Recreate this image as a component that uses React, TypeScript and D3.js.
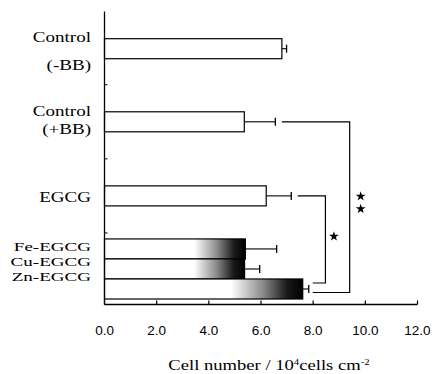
import React from 'react';
import * as d3 from 'd3';

// data
const categories = ['Control (-BB)', 'Control (+BB)', 'EGCG', 'Fe-EGCG', 'Cu-EGCG', 'Zn-EGCG'];
const labelLines = [['Control', '(-BB)'], ['Control', '(+BB)'], ['EGCG'], ['Fe-EGCG'], ['Cu-EGCG'], ['Zn-EGCG']];
const means = [6.8, 5.36, 6.2, 5.4, 5.37, 7.6];
const errors = [0.18, 1.19, 0.96, 1.2, 0.58, 0.23];
const shaded = [false, false, false, true, true, true];
const xTicks = [0, 2, 4, 6, 8, 10, 12];
const comparisons = [
  { from: 1, to: 5, label: '**' },
  { from: 2, to: 5, label: '*' },
];

// layout
const W = 435;
const H = 374;
const rowSlot = [0, 3.65, 7.35, 10, 11, 12]; // bar tops in bar-height units
const labelDy = [[-6.5, 21], [-6, 12.5], [6], [2], [-3], [-8]];
const labelSize = [15, 15, 15, 13, 13, 13];
const bracketX = [9.4, 8.47];
const bracketEndDy = [3.5, -6];
const yTickSlots = [2.3, 6.0, 9.7];

const x = d3.scaleLinear().domain([0, 12]).range([104.5, 417.5]);
const y = d3.scaleLinear().domain([0, 13]).range([38.7, 299]);
const barH = y(1) - y(0);
const axisY = 304.5;
const serif = '"Liberation Serif", "Times New Roman", serif';
const sans = '"Liberation Sans", Arial, sans-serif';

const Txt = ({ x0, y0, sx, anchor, size, family, children }: any) => (
  <text
    transform={`translate(${x0},${y0}) scale(${sx},1)`}
    textAnchor={anchor}
    fontSize={size}
    fontFamily={family}
    fill="#000"
  >
    {children}
  </text>
);

export default function App() {
  const center = (i: number) => y(rowSlot[i]) + barH / 2;
  const errEnd = (i: number) => x(means[i] + errors[i]);
  const star = d3.symbol(d3.symbolStar).size(30)();

  return (
    <svg width={W} height={H} style={{ position: 'absolute', left: 0, top: 0, background: '#fff' }}>
      <defs>
        <linearGradient id="stip" x1="0" x2="1" y1="0" y2="0">
          <stop offset="0" stopColor="#fff" />
          <stop offset="0.64" stopColor="#fff" />
          <stop offset="0.8" stopColor="#8a8a8a" />
          <stop offset="0.92" stopColor="#1a1a1a" />
          <stop offset="1" stopColor="#000" />
        </linearGradient>
      </defs>

      {/* bars */}
      {categories.map((c, i) => (
        <g key={c}>
          <rect
            x={x(0)}
            y={y(rowSlot[i])}
            width={x(means[i]) - x(0)}
            height={barH}
            fill={shaded[i] ? 'url(#stip)' : '#fff'}
            stroke="#000"
            strokeWidth={1.2}
          />
          <line x1={x(means[i])} x2={errEnd(i)} y1={center(i)} y2={center(i)} stroke="#000" strokeWidth={1.1} />
          <line x1={errEnd(i)} x2={errEnd(i)} y1={center(i) - 4} y2={center(i) + 4} stroke="#000" strokeWidth={1.3} />
        </g>
      ))}

      {/* category labels */}
      {labelLines.map((lines, i) =>
        lines.map((t, k) => (
          <Txt
            key={`${i}-${k}`}
            x0={91}
            y0={center(i) + labelDy[i][k]}
            sx={(15 / labelSize[i]) * 1.27}
            anchor="end"
            size={labelSize[i]}
            family={serif}
          >
            {t}
          </Txt>
        ))
      )}

      {/* axes */}
      <line x1={x(0)} x2={x(0)} y1={11.5} y2={axisY} stroke="#000" strokeWidth={1.3} />
      <line x1={x(0)} x2={x(12)} y1={axisY} y2={axisY} stroke="#000" strokeWidth={1.3} />
      {yTickSlots.map((s) => (
        <line key={s} x1={x(0)} x2={x(0) + 3} y1={y(s)} y2={y(s)} stroke="#000" />
      ))}
      {xTicks.map((t) => (
        <g key={t}>
          <line x1={x(t)} x2={x(t)} y1={axisY} y2={axisY - 4} stroke="#000" strokeWidth={1.2} />
          <Txt x0={x(t)} y0={335} sx={1.08} anchor="middle" size={12.5} family={sans}>
            {d3.format('.1f')(t)}
          </Txt>
        </g>
      ))}
      <Txt x0={269} y0={370} sx={1.2} anchor="middle" size={15.5} family={serif}>
        Cell number / 10
        <tspan dy={-5} fontSize={9}>4</tspan>
        <tspan dy={5}>cells cm</tspan>
        <tspan dy={-5} fontSize={9}>-2</tspan>
      </Txt>

      {/* significance brackets */}
      {comparisons.map((cmp, k) => {
        const bx = x(bracketX[k]);
        const y0 = center(cmp.from);
        const y1 = center(cmp.to) + bracketEndDy[k];
        const xs = errEnd(cmp.from) + 6.5;
        const xe = errEnd(cmp.to) + 4;
        const path = d3.path();
        path.moveTo(xs, y0);
        path.lineTo(bx, y0);
        path.lineTo(bx, y1);
        path.lineTo(xe, y1);
        const n = cmp.label.length;
        const sx = bx + (n > 1 ? 11 : 8.5);
        const sy = (y0 + y1) / 2 - (n > 1 ? 4.5 : 3);
        return (
          <g key={cmp.label}>
            <path d={path.toString()} fill="none" stroke="#000" strokeWidth={1.2} />
            {d3.range(n).map((j) => (
              <path key={j} d={star!} transform={`translate(${sx},${sy + (j - (n - 1) / 2) * 12.6})`} fill="#000" />
            ))}
          </g>
        );
      })}
    </svg>
  );
}
